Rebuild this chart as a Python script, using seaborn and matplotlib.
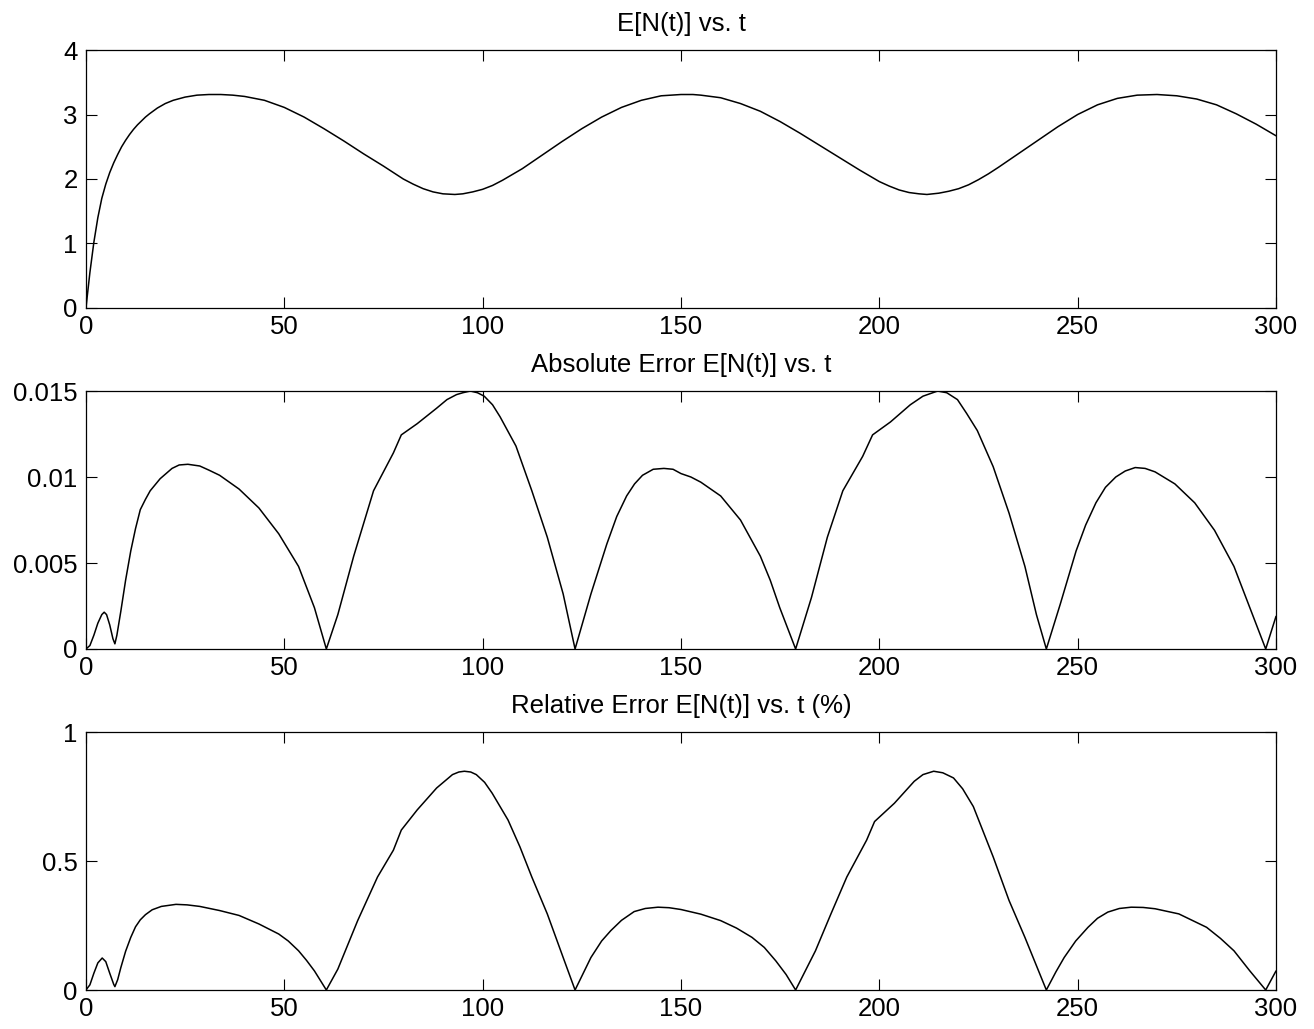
import matplotlib
matplotlib.use("Agg")
import matplotlib.pyplot as plt
import seaborn as sns
import pandas as pd
from matplotlib.ticker import FuncFormatter

# ---- data ----
t_mean = [0, 1, 2, 3, 4, 5, 6, 7, 8, 9, 10, 11, 12, 13, 14, 15, 16, 18, 20, 22, 25, 28, 31,
          34, 37, 40, 45, 50, 55, 60, 65, 70, 75, 77.5, 80, 82.5, 85, 87.5, 90, 93, 95,
          97.5, 100, 102.5, 105, 107.5, 110, 115, 120, 125, 130, 135, 140, 145, 150, 153,
          155, 160, 165, 170, 175, 180, 185, 190, 195, 197.5, 200, 202.5, 205, 207.5, 210,
          212, 215, 217.5, 220, 222.5, 225, 227.5, 230, 235, 240, 245, 250, 255, 260, 265,
          270, 275, 280, 285, 290, 295, 300]
mean_vals = [0.0, 0.55, 1.02, 1.40, 1.70, 1.92, 2.10, 2.25, 2.38, 2.50, 2.60, 2.69, 2.77,
             2.84, 2.90, 2.96, 3.01, 3.10, 3.17, 3.22, 3.27, 3.30, 3.31, 3.31, 3.30, 3.28,
             3.22, 3.11, 2.96, 2.78, 2.59, 2.39, 2.20, 2.10, 2.00, 1.92, 1.85, 1.80, 1.77,
             1.76, 1.77, 1.80, 1.84, 1.90, 1.98, 2.07, 2.16, 2.37, 2.58, 2.78, 2.96, 3.11,
             3.22, 3.29, 3.31, 3.31, 3.30, 3.26, 3.17, 3.05, 2.89, 2.71, 2.52, 2.33, 2.14,
             2.05, 1.96, 1.89, 1.83, 1.79, 1.77, 1.76, 1.78, 1.81, 1.85, 1.91, 1.99, 2.08,
             2.18, 2.39, 2.60, 2.81, 3.00, 3.15, 3.25, 3.30, 3.31, 3.29, 3.24, 3.15, 3.01,
             2.85, 2.67]

t_abs = [0, 1, 2, 3, 4, 4.6, 5.2, 6, 6.8, 7.3, 7.8, 8.8, 10, 11.3, 12.5, 13.7, 15, 16.2,
         18.7, 21.7, 23.5, 25.7, 28.7, 31, 33.7, 38.6, 43.6, 48.6, 53.6, 57.6, 60.6, 63.5,
         67.5, 72.5, 77.5, 79.5, 83.5, 88.4, 91, 93.4, 95, 96.9, 98.7, 100.4, 102.5, 104.4,
         108.4, 112.4, 116.3, 120.3, 123.3, 127.3, 131.3, 133.8, 136.3, 138.3, 140.3, 143,
         145.7, 148, 150, 152.5, 155, 160, 165, 170, 172.5, 174.9, 178.9, 182.9, 186.9,
         190.8, 195.8, 198.3, 202.8, 207.8, 211, 214.7, 217, 219.7, 222, 224.7, 228.7,
         232.7, 236.7, 239.6, 242.1, 245.6, 249.6, 252, 254.6, 257, 259.6, 262, 264.5, 267,
         269.5, 274.5, 279.5, 284.5, 289.4, 293.4, 297.4, 300]
abs_vals = [0.0, 0.0002, 0.0008, 0.0015, 0.0020, 0.00214, 0.0020, 0.0014, 0.0006, 0.0003,
            0.0008, 0.0022, 0.0040, 0.0057, 0.0070, 0.0081, 0.0087, 0.0092, 0.0099, 0.0105,
            0.0107, 0.01074, 0.01064, 0.0104, 0.0101, 0.0093, 0.0082, 0.0067, 0.0048, 0.0024,
            0.0, 0.0020, 0.0054, 0.0092, 0.0114, 0.01245, 0.0131, 0.0140, 0.0145, 0.01479,
            0.0149, 0.0150, 0.0149, 0.0147, 0.0142, 0.0135, 0.0118, 0.0092, 0.0065, 0.0032,
            0.0, 0.0032, 0.0061, 0.0077, 0.0089, 0.0096, 0.0101, 0.01045, 0.0105, 0.01045,
            0.0102, 0.0100, 0.0097, 0.0089, 0.0075, 0.0054, 0.0040, 0.0024, 0.0, 0.0030,
            0.0065, 0.0092, 0.0112, 0.01245, 0.0132, 0.0142, 0.0147, 0.0150, 0.0149, 0.0145,
            0.0137, 0.0127, 0.0106, 0.0079, 0.0048, 0.0020, 0.0, 0.0026, 0.0057, 0.0072,
            0.0085, 0.0094, 0.0100, 0.01035, 0.01055, 0.0105, 0.0103, 0.0096, 0.0085,
            0.0069, 0.0048, 0.0024, 0.0, 0.0019]

t_rel = [0, 1, 2, 3, 4.1, 5, 6, 7, 7.3, 8, 8.8, 10, 11.3, 12.5, 13.7, 15, 16.7, 19, 22.7,
         25.5, 28.7, 33.7, 38.6, 43.6, 48.6, 51, 53.6, 55.6, 57.6, 60.6, 63.5, 68.5, 73.5,
         77.5, 79.5, 83.5, 88.4, 92.4, 94, 95.4, 97, 98.4, 100.5, 102.4, 106.4, 109.4,
         112.4, 116.3, 120.3, 123.3, 127.3, 130, 132.3, 135, 138.2, 141, 144.2, 147, 150,
         155, 160, 164, 167.9, 171, 173.9, 176.5, 178.9, 183.9, 187.8, 191.8, 196.8, 198.8,
         203.8, 208.8, 211, 213.7, 216, 218.7, 221, 223.7, 228.7, 232.7, 236.7, 242.1,
         244.5, 246.6, 249.5, 252.6, 255, 257.6, 260.5, 263.5, 266.5, 269.5, 275.5, 282.5,
         286, 289.4, 293.4, 297.4, 300]
rel_vals = [0.0, 0.02, 0.065, 0.105, 0.124, 0.11, 0.065, 0.022, 0.013, 0.04, 0.087, 0.15,
            0.204, 0.245, 0.272, 0.292, 0.311, 0.324, 0.332, 0.330, 0.324, 0.308, 0.289,
            0.256, 0.217, 0.19, 0.152, 0.115, 0.074, 0.0, 0.081, 0.269, 0.438, 0.542, 0.620,
            0.698, 0.783, 0.835, 0.845, 0.848, 0.845, 0.835, 0.805, 0.763, 0.659, 0.555,
            0.438, 0.295, 0.126, 0.0, 0.126, 0.19, 0.230, 0.27, 0.304, 0.316, 0.321, 0.319,
            0.312, 0.294, 0.269, 0.24, 0.204, 0.165, 0.113, 0.06, 0.0, 0.152, 0.295, 0.438,
            0.581, 0.653, 0.724, 0.809, 0.835, 0.848, 0.842, 0.822, 0.78, 0.711, 0.516,
            0.347, 0.204, 0.0, 0.07, 0.126, 0.19, 0.243, 0.278, 0.302, 0.316, 0.321, 0.320,
            0.315, 0.295, 0.243, 0.20, 0.152, 0.074, 0.0, 0.074]

titles = ["E[N(t)] vs. t", "Absolute Error E[N(t)] vs. t", "Relative Error E[N(t)] vs. t (%)"]
x_ticks = [0, 50, 100, 150, 200, 250, 300]
y_ticks = [[0, 1, 2, 3, 4], [0, 0.005, 0.01, 0.015], [0, 0.5, 1]]
y_lims = [(0, 4), (0, 0.015), (0, 1)]

# ---- style ----
sns.set_style("ticks")
plt.rcParams["font.family"] = ["Liberation Sans", "DejaVu Sans"]
plt.rcParams["font.size"] = 18.5
plt.rcParams["text.color"] = "black"

fig = plt.figure(figsize=(13.14, 10.29), dpi=100)
left, width, height = 0.0654, 0.9057, 0.2507
bottoms = [0.7007, 0.3693, 0.0379]

series = [(t_mean, mean_vals), (t_abs, abs_vals), (t_rel, rel_vals)]
fmt = FuncFormatter(lambda v, p: f"{v:g}")

for i, (tx, ty) in enumerate(series):
    ax = fig.add_axes([left, bottoms[i], width, height])
    df = pd.DataFrame({"t": tx, "v": ty})
    sns.lineplot(data=df, x="t", y="v", ax=ax, color="black", linewidth=1.1, sort=False)
    ax.set_xlim(0, 300)
    ax.set_ylim(*y_lims[i])
    ax.set_xticks(x_ticks)
    ax.set_yticks(y_ticks[i])
    ax.xaxis.set_major_formatter(fmt)
    ax.yaxis.set_major_formatter(fmt)
    ax.set_xlabel("")
    ax.set_ylabel("")
    ax.set_title(titles[i], fontsize=18.5, pad=14, color="black")
    ax.tick_params(direction="in", length=8, width=0.8, top=True, right=True,
                   labelsize=18.5, colors="black")
    ax.tick_params(axis="x", pad=5)
    ax.tick_params(axis="y", pad=6)
    for s in ax.spines.values():
        s.set_visible(True)
        s.set_linewidth(0.9)
        s.set_color("black")

fig.savefig("out.png", dpi=100, facecolor="white")
